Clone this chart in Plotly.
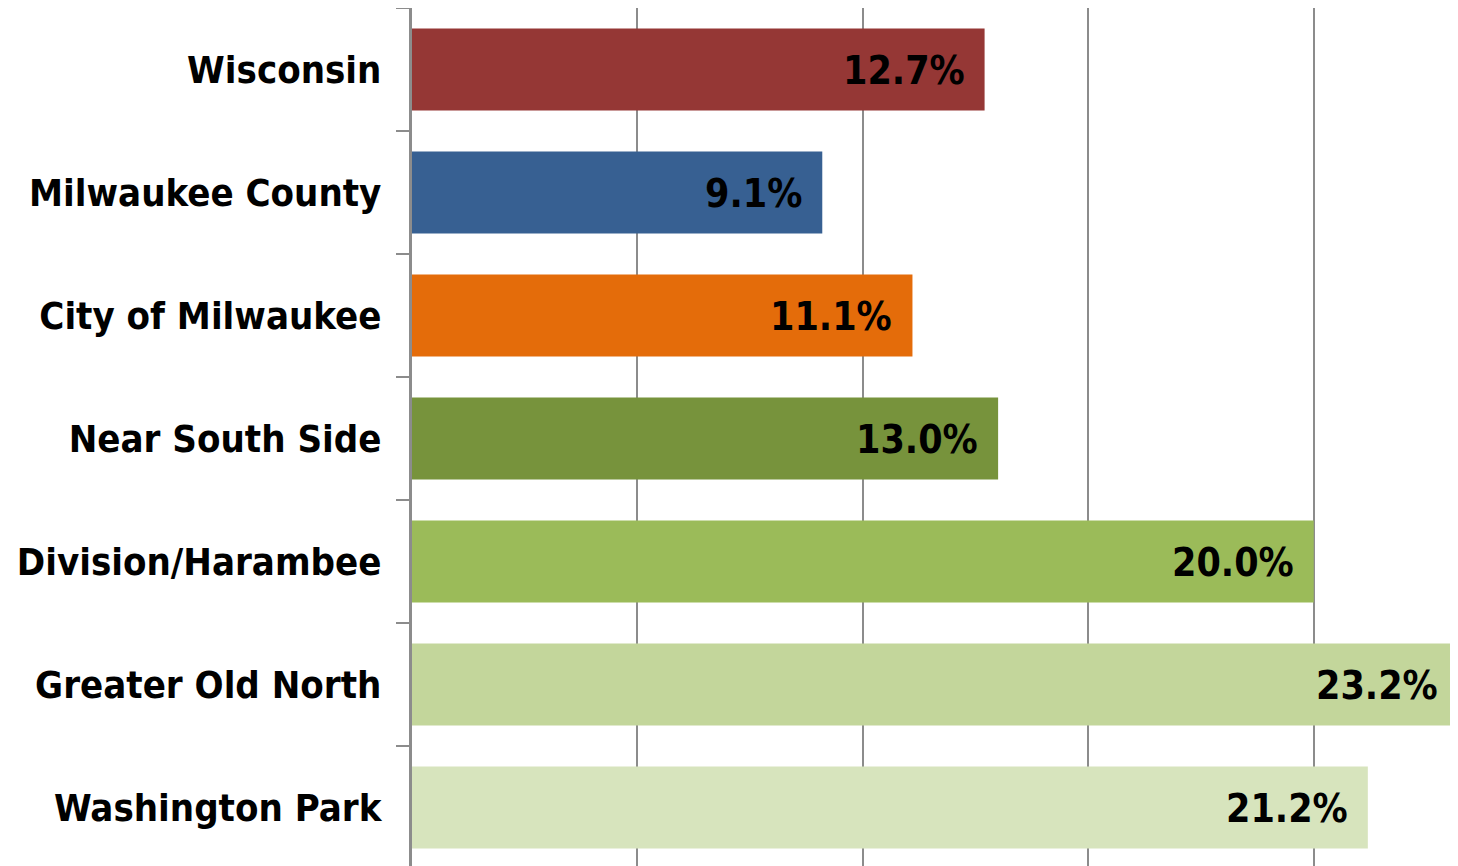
import plotly.graph_objects as go

categories = ["Wisconsin", "Milwaukee County", "City of Milwaukee", "Near South Side",
              "Division/Harambee", "Greater Old North", "Washington Park"]
values = [12.7, 9.1, 11.1, 13.0, 20.0, 23.2, 21.2]
labels = ["12.7%", "9.1%", "11.1%", "13.0%", "20.0%", "23.2%", "21.2%"]
colors = ["#953735", "#376092", "#E46C0A", "#77933C", "#9BBB59", "#C3D69B", "#D7E4BD"]

FONT = "Liberation Sans Narrow, Arial Narrow, DejaVu Sans Condensed, sans-serif"
FS = 38

fig = go.Figure(go.Bar(
    y=categories, x=values, orientation="h",
    marker=dict(color=colors, line=dict(width=0)),
    hoverinfo="skip",
))

for c, v, t in zip(categories, values, labels):
    fig.add_annotation(x=v, y=c, text="<b>%s</b>" % t, showarrow=False,
                       xanchor="right", yanchor="middle", xshift=-18, yshift=-1,
                       font=dict(family=FONT, size=FS + 1, color="#000000"))

fig.update_layout(
    width=1450, height=858,
    margin=dict(l=404, r=0, t=0, b=0, autoexpand=False),
    paper_bgcolor="white", plot_bgcolor="white",
    bargap=0.333, showlegend=False,
    font=dict(family=FONT, size=FS, color="#000000"),
)
fig.update_xaxes(range=[0, 23.2], showticklabels=False, showgrid=True,
                 gridcolor="#8c8c8c", gridwidth=2, dtick=5, tick0=0,
                 zeroline=False, showline=False, ticks="", automargin=False)
fig.update_yaxes(categoryorder="array", categoryarray=categories,
                 range=[6.476, -0.5], showline=True, linecolor="#8c8c8c", linewidth=3,
                 ticks="outside", ticklen=13, tickwidth=2, tickcolor="#8c8c8c",
                 tickson="boundaries", ticklabelstandoff=20, automargin=False,
                 tickfont=dict(family=FONT, size=FS, color="#000000"),
                 tickprefix="<b>", ticksuffix="</b>", showgrid=False)

fig.write_html("out.html")
